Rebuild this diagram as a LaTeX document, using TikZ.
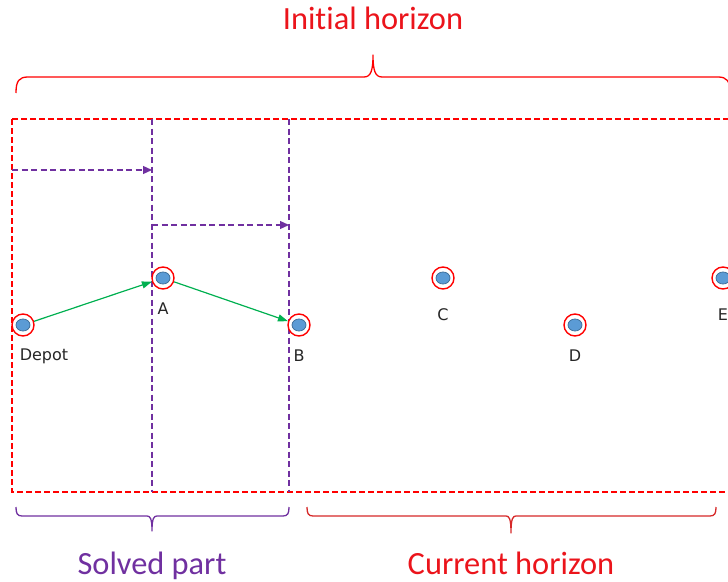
\documentclass[tikz,border=0pt]{standalone}
\usepackage{fontspec}
\setmainfont[Ligatures=NoCommon]{Carlito}
\newfontfamily\ptfont{DejaVu Sans}
\usetikzlibrary{arrows.meta}
\definecolor{horizonred}{RGB}{255,0,0}
\definecolor{titlered}{RGB}{235,20,27}
\definecolor{bracered}{RGB}{214,40,40}
\definecolor{solvedpurple}{RGB}{112,48,160}
\definecolor{routegreen}{RGB}{0,176,80}
\definecolor{custfill}{RGB}{91,155,213}
\definecolor{custedge}{RGB}{65,113,156}

\begin{document}
\begin{tikzpicture}[x=1pt, y=-1pt,
  cust/.style={circle, draw=horizonred, line width=1.4pt, minimum size=22pt,
               inner sep=0pt, fill=white,
               path picture={\draw[fill=custfill, draw=custedge, line width=0.8pt]
                 (path picture bounding box.center) ellipse (7pt and 6pt);}},
  lbl/.style={font=\ptfont\fontsize{16}{17}\selectfont, inner sep=0pt, text=black!85},
  title/.style={font=\fontsize{32.4}{34}\selectfont, inner sep=0pt, anchor=base},
  hbox/.style={draw=horizonred, line width=1.3pt, dash pattern=on 6pt off 3pt},
  cut/.style={draw=solvedpurple, line width=1.2pt, dash pattern=on 6pt off 3.5pt},
  shiftarrow/.style={cut, -{Triangle[length=9pt,width=8pt]}},
  route/.style={draw=routegreen, line width=1.2pt, -{Triangle[length=10pt,width=7pt]}},
  brace/.style={line width=1.3pt, line join=round}]

\useasboundingbox (0,0) rectangle (728,581);
\clip (0,0) rectangle (728,581);

% horizon box and the two cuts
\draw[hbox] (12,119) rectangle (740,492);
\coordinate (cut1top) at (152,119);
\coordinate (cut1bot) at (152,492);
\coordinate (cut2top) at (289,119);
\coordinate (cut2bot) at (289,492);
\draw[cut] (cut1top) -- (cut1bot);
\draw[cut] (cut2top) -- (cut2bot);

% shifts of the horizon
\coordinate (sh1a) at (12,170);
\coordinate (sh1b) at (152,170);
\coordinate (sh2a) at (152,225);
\coordinate (sh2b) at (289,225);
\draw[shiftarrow] (sh1a) -- (sh1b);
\draw[shiftarrow] (sh2a) -- (sh2b);

% customers
\node[cust] (dep) at (23,325) {};
\node[cust] (a) at (163,278) {};
\node[cust] (b) at (299,325) {};
\node[cust] (c) at (443,278) {};
\node[cust] (d) at (575,325) {};
\node[cust] (e) at (723,278) {};

\node[lbl] (depl) at (44,356) {Depot};
\node[lbl] (al) at (163,309) {A};
\node[lbl] (bl) at (299,356) {B};
\node[lbl] (cl) at (443,315) {C};
\node[lbl] (dl) at (575,356) {D};
\node[lbl] (el) at (723,315) {E};

\draw[route] (dep) -- (a);
\draw[route] (a) -- (b);

% braces
\draw[brace, horizonred] (16,93) .. controls (16,81) and (19,77) .. (28,77)
  -- (364,77) .. controls (371,77) and (373,70) .. (373,55)
  .. controls (373,70) and (375,77) .. (382,77)
  -- (718,77) .. controls (727,77) and (730,81) .. (730,93);
\draw[brace, solvedpurple] (16,507) .. controls (16,513) and (17,516) .. (22,516)
  -- (147,516) .. controls (150,516) and (152,518) .. (152,531)
  .. controls (152,518) and (154,516) .. (157,516)
  -- (283,516) .. controls (288,516) and (289,513) .. (289,507);
\draw[brace, bracered] (307,507) .. controls (307,513) and (308,516) .. (313,516)
  -- (506,516) .. controls (509,516) and (511,518) .. (511,533)
  .. controls (511,518) and (513,516) .. (516,516)
  -- (710,516) .. controls (715,516) and (716,513) .. (716,507);

\node[title, text=titlered] (init) at (373,29) {Initial horizon};
\node[title, text=solvedpurple] (solved) at (152,574) {Solved part};
\node[title, text=titlered] (curr) at (511,574) {Current horizon};

\end{tikzpicture}
\end{document}
